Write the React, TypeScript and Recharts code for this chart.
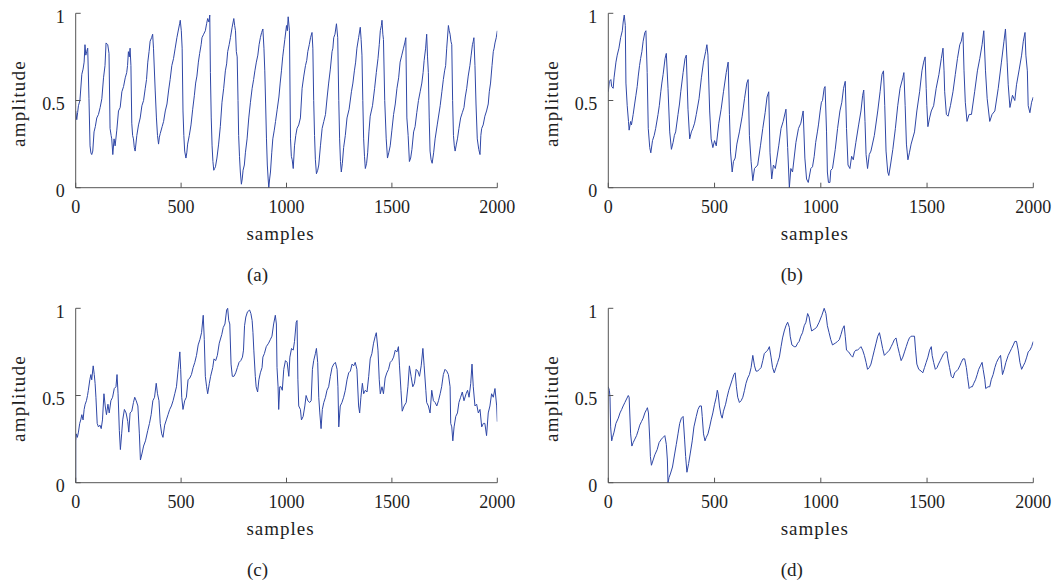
import { LineChart, Line, XAxis, YAxis } from 'recharts';

// sample index ticks and amplitude ticks shared by all four panels
const sampleTicks = [0, 500, 1000, 1500, 2000];
const amplitudeTicks = [0, 0.5, 1];

// [sample, amplitude]
const seriesA: [number, number][] = [
  [0,0.44],[5,0.39],[9,0.43],[13,0.47],[20,0.5],[29,0.65],[35,0.68],[40,0.72],[44,0.82],[48,0.76],[52,0.78],[57,0.8],[63,0.51],[68,0.24],[72,0.2],[76,0.19],[81,0.21],[87,0.32],[93,0.35],[100,0.4],[108,0.42],[116,0.46],[124,0.51],[132,0.63],[139,0.7],[144,0.83],[152,0.82],[158,0.77],[163,0.34],[168,0.3],[171,0.28],[176,0.19],[182,0.28],[187,0.24],[195,0.33],[203,0.44],[211,0.46],[219,0.55],[227,0.58],[235,0.63],[242,0.66],[246,0.7],[250,0.78],[254,0.75],[258,0.8],[262,0.7],[266,0.37],[270,0.3],[274,0.28],[278,0.23],[282,0.21],[290,0.3],[298,0.36],[306,0.4],[314,0.47],[322,0.5],[330,0.57],[336,0.62],[342,0.72],[348,0.78],[353,0.84],[360,0.86],[365,0.88],[369,0.8],[377,0.56],[383,0.4],[388,0.3],[393,0.25],[397,0.29],[401,0.31],[410,0.35],[417,0.38],[425,0.44],[433,0.48],[441,0.56],[448,0.62],[456,0.7],[464,0.74],[472,0.8],[480,0.86],[488,0.91],[493,0.94],[496,0.96],[501,0.9],[505,0.8],[509,0.44],[513,0.3],[517,0.21],[523,0.17],[527,0.2],[531,0.25],[539,0.3],[547,0.36],[555,0.45],[563,0.53],[569,0.6],[575,0.64],[582,0.72],[588,0.77],[595,0.82],[599,0.86],[607,0.88],[615,0.9],[621,0.94],[626,0.97],[632,0.95],[636,0.99],[639,0.66],[643,0.4],[647,0.24],[651,0.15],[655,0.1],[659,0.11],[663,0.12],[670,0.17],[678,0.25],[686,0.35],[694,0.49],[702,0.57],[710,0.67],[716,0.71],[721,0.78],[728,0.82],[734,0.86],[742,0.92],[750,0.97],[754,0.93],[758,0.9],[762,0.78],[766,0.75],[770,0.5],[773,0.3],[777,0.18],[781,0.09],[786,0.02],[790,0.05],[794,0.1],[800,0.13],[805,0.2],[813,0.28],[821,0.4],[829,0.49],[837,0.57],[844,0.62],[850,0.67],[857,0.72],[864,0.76],[870,0.82],[876,0.86],[882,0.89],[888,0.91],[893,0.8],[897,0.67],[901,0.48],[905,0.28],[909,0.13],[913,0.05],[916,0.0],[920,0.05],[924,0.09],[930,0.2],[935,0.28],[942,0.33],[948,0.38],[956,0.45],[964,0.52],[970,0.6],[976,0.67],[982,0.75],[987,0.8],[992,0.85],[1000,0.93],[1004,0.9],[1008,0.98],[1014,0.9],[1019,0.28],[1023,0.18],[1027,0.16],[1032,0.11],[1038,0.24],[1044,0.3],[1050,0.34],[1058,0.36],[1066,0.4],[1074,0.57],[1082,0.64],[1090,0.7],[1096,0.73],[1101,0.78],[1108,0.82],[1114,0.86],[1121,0.89],[1125,0.8],[1129,0.5],[1133,0.3],[1137,0.16],[1142,0.08],[1148,0.1],[1153,0.13],[1161,0.24],[1169,0.34],[1177,0.38],[1185,0.42],[1193,0.52],[1200,0.6],[1208,0.68],[1216,0.78],[1220,0.8],[1224,0.86],[1230,0.88],[1237,0.94],[1243,0.86],[1248,0.5],[1252,0.28],[1256,0.15],[1260,0.09],[1265,0.14],[1271,0.23],[1279,0.3],[1287,0.4],[1297,0.45],[1308,0.55],[1315,0.6],[1322,0.67],[1328,0.72],[1334,0.8],[1342,0.86],[1350,0.92],[1354,0.85],[1358,0.76],[1362,0.5],[1366,0.28],[1370,0.18],[1374,0.11],[1380,0.14],[1385,0.2],[1391,0.32],[1397,0.41],[1408,0.47],[1418,0.57],[1426,0.66],[1434,0.74],[1440,0.82],[1445,0.9],[1450,0.93],[1453,0.96],[1457,0.88],[1460,0.85],[1466,0.5],[1473,0.28],[1479,0.17],[1485,0.2],[1492,0.24],[1500,0.33],[1508,0.42],[1516,0.48],[1524,0.57],[1532,0.63],[1539,0.72],[1547,0.76],[1555,0.8],[1561,0.83],[1566,0.86],[1571,0.4],[1577,0.3],[1583,0.15],[1589,0.17],[1595,0.22],[1603,0.32],[1610,0.35],[1618,0.43],[1626,0.5],[1634,0.55],[1642,0.6],[1648,0.66],[1653,0.73],[1660,0.8],[1665,0.88],[1669,0.75],[1673,0.66],[1677,0.4],[1681,0.21],[1686,0.16],[1691,0.14],[1698,0.2],[1705,0.28],[1715,0.36],[1729,0.47],[1737,0.55],[1744,0.62],[1750,0.67],[1755,0.7],[1760,0.8],[1768,0.93],[1772,0.9],[1776,0.88],[1780,0.84],[1784,0.82],[1788,0.5],[1792,0.3],[1796,0.24],[1800,0.21],[1806,0.25],[1811,0.28],[1818,0.34],[1826,0.4],[1834,0.43],[1842,0.46],[1848,0.52],[1855,0.57],[1862,0.64],[1870,0.7],[1876,0.76],[1882,0.82],[1886,0.84],[1889,0.86],[1894,0.7],[1899,0.48],[1905,0.28],[1912,0.22],[1918,0.19],[1922,0.3],[1926,0.34],[1933,0.36],[1941,0.41],[1949,0.44],[1957,0.48],[1962,0.55],[1968,0.6],[1975,0.7],[1981,0.78],[1985,0.8],[1989,0.83],[1995,0.86],[2000,0.9],
];

const seriesB: [number, number][] = [
  [0,0.55],[5,0.61],[12,0.62],[16,0.58],[23,0.57],[27,0.63],[36,0.72],[42,0.76],[50,0.8],[58,0.86],[66,0.9],[70,0.95],[75,0.99],[80,0.93],[83,0.6],[89,0.47],[95,0.38],[98,0.33],[105,0.38],[109,0.36],[117,0.42],[124,0.48],[130,0.53],[136,0.58],[141,0.64],[147,0.7],[152,0.74],[158,0.78],[164,0.84],[172,0.89],[177,0.9],[183,0.66],[188,0.34],[195,0.23],[200,0.2],[208,0.27],[216,0.3],[223,0.34],[234,0.42],[240,0.47],[247,0.55],[252,0.6],[258,0.65],[267,0.74],[273,0.77],[281,0.57],[289,0.32],[297,0.22],[305,0.26],[311,0.3],[317,0.32],[328,0.42],[335,0.48],[341,0.55],[352,0.66],[361,0.74],[367,0.76],[375,0.45],[383,0.28],[391,0.32],[398,0.34],[406,0.37],[414,0.42],[427,0.51],[438,0.63],[448,0.72],[458,0.78],[464,0.82],[469,0.76],[477,0.44],[484,0.28],[492,0.23],[500,0.27],[508,0.24],[520,0.37],[531,0.45],[542,0.55],[555,0.66],[564,0.72],[570,0.42],[575,0.21],[583,0.09],[589,0.15],[597,0.17],[605,0.25],[617,0.32],[630,0.41],[641,0.51],[652,0.6],[658,0.62],[664,0.3],[672,0.15],[680,0.04],[688,0.11],[703,0.13],[716,0.24],[727,0.34],[738,0.43],[747,0.52],[755,0.55],[761,0.2],[769,0.05],[777,0.13],[786,0.11],[802,0.24],[813,0.34],[823,0.38],[836,0.45],[844,0.23],[852,0.0],[859,0.11],[867,0.09],[883,0.26],[895,0.34],[906,0.37],[917,0.44],[925,0.17],[933,0.05],[941,0.03],[953,0.11],[961,0.12],[969,0.18],[976,0.26],[984,0.32],[989,0.36],[997,0.44],[1003,0.49],[1008,0.5],[1016,0.57],[1020,0.58],[1027,0.32],[1031,0.09],[1036,0.03],[1043,0.03],[1047,0.1],[1055,0.11],[1068,0.22],[1079,0.34],[1090,0.44],[1099,0.49],[1107,0.57],[1115,0.61],[1121,0.34],[1128,0.13],[1137,0.11],[1145,0.18],[1153,0.16],[1165,0.26],[1178,0.36],[1189,0.44],[1197,0.53],[1202,0.56],[1208,0.38],[1213,0.19],[1220,0.11],[1228,0.19],[1236,0.21],[1252,0.3],[1268,0.44],[1279,0.55],[1288,0.65],[1295,0.67],[1301,0.47],[1307,0.21],[1315,0.09],[1320,0.07],[1328,0.13],[1339,0.22],[1351,0.34],[1362,0.47],[1373,0.57],[1386,0.63],[1391,0.66],[1397,0.47],[1403,0.25],[1410,0.16],[1417,0.2],[1425,0.25],[1441,0.32],[1452,0.44],[1465,0.55],[1476,0.67],[1484,0.72],[1491,0.75],[1496,0.57],[1499,0.47],[1504,0.35],[1512,0.4],[1520,0.44],[1531,0.47],[1543,0.57],[1556,0.65],[1567,0.74],[1575,0.8],[1580,0.67],[1583,0.55],[1591,0.42],[1599,0.41],[1610,0.47],[1622,0.55],[1633,0.65],[1643,0.74],[1654,0.82],[1661,0.84],[1669,0.89],[1674,0.67],[1680,0.49],[1688,0.38],[1698,0.42],[1709,0.42],[1724,0.55],[1737,0.67],[1748,0.74],[1759,0.82],[1767,0.9],[1775,0.67],[1783,0.51],[1795,0.38],[1806,0.42],[1819,0.44],[1835,0.57],[1850,0.72],[1862,0.84],[1869,0.91],[1877,0.72],[1882,0.59],[1890,0.46],[1902,0.53],[1913,0.5],[1921,0.59],[1934,0.68],[1945,0.76],[1953,0.84],[1961,0.89],[1965,0.76],[1972,0.67],[1976,0.47],[1984,0.43],[1992,0.49],[2000,0.52],
];

const seriesC: [number, number][] = [
  [0,0],[0,0.24],[3,0.28],[8,0.26],[13,0.29],[19,0.34],[24,0.36],[29,0.39],[35,0.36],[40,0.42],[45,0.45],[51,0.47],[56,0.5],[60,0.53],[67,0.59],[72,0.62],[76,0.59],[83,0.67],[88,0.62],[92,0.57],[96,0.49],[102,0.34],[108,0.32],[115,0.33],[121,0.31],[127,0.36],[134,0.51],[140,0.44],[146,0.39],[153,0.45],[159,0.4],[167,0.47],[175,0.49],[183,0.54],[191,0.55],[196,0.62],[201,0.51],[207,0.3],[212,0.19],[218,0.28],[223,0.36],[231,0.42],[239,0.4],[247,0.35],[252,0.29],[258,0.4],[266,0.41],[274,0.46],[280,0.49],[287,0.47],[295,0.44],[302,0.28],[307,0.13],[315,0.17],[322,0.21],[331,0.24],[342,0.3],[350,0.34],[358,0.39],[366,0.47],[374,0.49],[382,0.57],[388,0.51],[395,0.47],[401,0.34],[408,0.28],[414,0.26],[422,0.33],[430,0.36],[438,0.39],[446,0.42],[454,0.44],[462,0.47],[470,0.51],[478,0.55],[486,0.65],[494,0.75],[498,0.65],[503,0.49],[509,0.42],[517,0.47],[525,0.49],[533,0.59],[541,0.6],[549,0.62],[557,0.66],[565,0.69],[573,0.73],[581,0.79],[589,0.82],[597,0.86],[605,0.96],[610,0.82],[615,0.61],[621,0.55],[626,0.51],[634,0.57],[640,0.61],[650,0.66],[656,0.71],[664,0.7],[672,0.73],[681,0.8],[693,0.85],[700,0.89],[708,0.91],[716,0.99],[721,1.0],[726,0.93],[731,0.91],[737,0.68],[743,0.61],[751,0.61],[759,0.63],[767,0.66],[775,0.69],[783,0.7],[791,0.72],[796,0.76],[801,0.9],[807,0.95],[815,0.98],[825,0.99],[831,0.97],[837,0.93],[841,0.86],[845,0.76],[852,0.61],[856,0.55],[863,0.52],[869,0.59],[876,0.63],[884,0.66],[888,0.72],[895,0.74],[904,0.78],[915,0.8],[923,0.82],[931,0.84],[939,0.91],[947,0.96],[952,0.91],[955,0.66],[960,0.55],[963,0.42],[968,0.55],[974,0.55],[980,0.53],[987,0.65],[995,0.7],[1003,0.69],[1011,0.61],[1016,0.72],[1024,0.77],[1032,0.76],[1038,0.81],[1046,0.92],[1050,0.93],[1054,0.59],[1058,0.44],[1066,0.42],[1071,0.36],[1079,0.38],[1087,0.44],[1093,0.5],[1101,0.47],[1110,0.46],[1117,0.47],[1123,0.65],[1129,0.7],[1137,0.74],[1142,0.77],[1148,0.69],[1153,0.49],[1158,0.4],[1164,0.31],[1170,0.42],[1177,0.46],[1185,0.49],[1192,0.53],[1200,0.55],[1208,0.61],[1216,0.66],[1224,0.68],[1232,0.69],[1240,0.65],[1244,0.55],[1248,0.32],[1255,0.44],[1263,0.46],[1271,0.49],[1279,0.53],[1287,0.59],[1295,0.63],[1303,0.64],[1311,0.68],[1319,0.67],[1326,0.69],[1334,0.65],[1342,0.44],[1347,0.4],[1353,0.49],[1360,0.57],[1366,0.51],[1374,0.53],[1382,0.52],[1390,0.61],[1397,0.71],[1405,0.74],[1413,0.8],[1421,0.84],[1426,0.86],[1434,0.76],[1440,0.59],[1445,0.51],[1453,0.55],[1460,0.51],[1468,0.6],[1476,0.63],[1484,0.65],[1492,0.69],[1500,0.7],[1508,0.72],[1516,0.76],[1524,0.75],[1531,0.78],[1536,0.67],[1543,0.53],[1549,0.41],[1558,0.44],[1568,0.46],[1576,0.55],[1583,0.67],[1591,0.61],[1599,0.55],[1607,0.57],[1615,0.65],[1623,0.64],[1631,0.61],[1639,0.67],[1647,0.77],[1653,0.67],[1661,0.53],[1665,0.46],[1673,0.44],[1681,0.4],[1689,0.53],[1697,0.47],[1705,0.46],[1713,0.44],[1721,0.47],[1729,0.51],[1736,0.55],[1744,0.62],[1752,0.65],[1760,0.64],[1768,0.62],[1776,0.55],[1779,0.34],[1784,0.32],[1789,0.24],[1795,0.32],[1803,0.38],[1811,0.4],[1818,0.46],[1826,0.49],[1834,0.52],[1842,0.47],[1852,0.51],[1859,0.53],[1866,0.49],[1874,0.57],[1880,0.68],[1886,0.55],[1894,0.44],[1902,0.45],[1910,0.4],[1918,0.42],[1926,0.32],[1934,0.34],[1941,0.34],[1949,0.27],[1957,0.4],[1965,0.44],[1973,0.51],[1981,0.49],[1989,0.54],[1997,0.44],[2000,0.35],
];

const seriesD: [number, number][] = [
  [0,0.55],[5,0.53],[8,0.49],[11,0.32],[16,0.24],[20,0.26],[27,0.29],[36,0.34],[47,0.37],[55,0.4],[63,0.42],[70,0.44],[78,0.46],[86,0.48],[94,0.5],[98,0.49],[105,0.28],[111,0.21],[117,0.23],[125,0.25],[133,0.27],[141,0.3],[148,0.33],[156,0.35],[164,0.37],[172,0.4],[180,0.42],[184,0.43],[189,0.4],[195,0.25],[198,0.15],[203,0.1],[211,0.13],[219,0.16],[230,0.19],[239,0.23],[250,0.25],[258,0.26],[266,0.27],[273,0.22],[278,0.13],[281,0.0],[286,0.03],[292,0.05],[302,0.09],[313,0.17],[320,0.22],[328,0.28],[336,0.34],[344,0.37],[352,0.38],[359,0.25],[364,0.15],[370,0.06],[378,0.11],[386,0.17],[395,0.24],[403,0.32],[414,0.38],[422,0.42],[430,0.44],[438,0.44],[442,0.38],[448,0.28],[455,0.24],[461,0.26],[469,0.28],[477,0.32],[484,0.36],[492,0.4],[500,0.45],[508,0.49],[513,0.53],[517,0.51],[523,0.44],[530,0.39],[536,0.37],[542,0.41],[552,0.45],[559,0.49],[567,0.53],[575,0.56],[583,0.59],[591,0.62],[597,0.63],[603,0.55],[609,0.49],[617,0.46],[625,0.47],[633,0.49],[641,0.53],[648,0.57],[656,0.6],[664,0.62],[672,0.66],[680,0.73],[688,0.67],[695,0.64],[703,0.64],[711,0.65],[719,0.66],[727,0.7],[734,0.74],[742,0.75],[750,0.76],[758,0.78],[766,0.72],[773,0.66],[781,0.63],[789,0.66],[797,0.69],[805,0.72],[813,0.78],[820,0.83],[828,0.87],[836,0.9],[844,0.92],[852,0.89],[856,0.84],[864,0.79],[875,0.78],[883,0.78],[891,0.8],[898,0.81],[906,0.84],[914,0.86],[922,0.9],[930,0.92],[938,0.97],[945,0.95],[950,0.91],[957,0.87],[969,0.88],[980,0.89],[992,0.92],[1005,0.96],[1016,1.0],[1024,0.97],[1031,0.9],[1039,0.86],[1047,0.82],[1055,0.79],[1068,0.8],[1079,0.81],[1087,0.82],[1095,0.85],[1102,0.88],[1110,0.9],[1115,0.84],[1121,0.76],[1131,0.75],[1142,0.73],[1150,0.72],[1158,0.75],[1165,0.76],[1173,0.76],[1181,0.77],[1189,0.78],[1197,0.76],[1205,0.73],[1213,0.69],[1220,0.65],[1228,0.66],[1236,0.68],[1244,0.72],[1252,0.76],[1260,0.8],[1268,0.84],[1276,0.86],[1283,0.82],[1291,0.77],[1299,0.73],[1307,0.74],[1315,0.75],[1323,0.76],[1331,0.78],[1339,0.8],[1346,0.82],[1354,0.83],[1362,0.78],[1370,0.74],[1378,0.7],[1386,0.72],[1394,0.75],[1402,0.78],[1410,0.81],[1417,0.83],[1425,0.84],[1433,0.84],[1441,0.84],[1446,0.76],[1452,0.68],[1461,0.65],[1472,0.64],[1480,0.63],[1488,0.66],[1496,0.69],[1504,0.72],[1512,0.76],[1520,0.78],[1524,0.73],[1531,0.69],[1539,0.65],[1547,0.66],[1554,0.68],[1562,0.7],[1570,0.72],[1578,0.74],[1587,0.75],[1594,0.75],[1598,0.71],[1606,0.66],[1614,0.61],[1622,0.6],[1630,0.63],[1638,0.64],[1646,0.65],[1654,0.67],[1661,0.69],[1669,0.71],[1677,0.71],[1685,0.66],[1690,0.61],[1698,0.54],[1706,0.55],[1713,0.55],[1720,0.57],[1728,0.59],[1736,0.62],[1743,0.65],[1751,0.67],[1759,0.69],[1764,0.65],[1772,0.59],[1776,0.54],[1787,0.55],[1795,0.55],[1802,0.59],[1811,0.62],[1819,0.66],[1827,0.69],[1835,0.71],[1846,0.73],[1850,0.68],[1855,0.62],[1863,0.65],[1871,0.69],[1882,0.73],[1890,0.75],[1898,0.77],[1906,0.79],[1913,0.81],[1921,0.81],[1929,0.76],[1937,0.69],[1945,0.65],[1953,0.67],[1961,0.69],[1969,0.72],[1976,0.75],[1984,0.76],[1992,0.78],[2000,0.81],
];

const captions = ['(a)', '(b)', '(c)', '(d)'];

const FONT = '"Liberation Serif", serif';
const LINE = '#2f47a6';
const AXIS = '#555';
const INK = '#1e1e1e';

const CHART_W = 529;
const CHART_H = 292;
const Y_AXIS_W = 40;
const X_AXIS_H = 30;

interface PanelProps {
  series: [number, number][];
  left: number;
  top: number;
  plotLeft: number;
  plotRight: number;
  plotTop: number;
  plotBottom: number;
  caption: string;
}

function Panel({ series, left, top, plotLeft, plotRight, plotTop, plotBottom, caption }: PanelProps) {
  const data = series.map(([s, v]) => ({ s, v }));
  const margin = {
    top: plotTop - top,
    right: left + CHART_W - plotRight,
    bottom: top + CHART_H - plotBottom - X_AXIS_H,
    left: plotLeft - left - Y_AXIS_W,
  };
  const labelX = plotLeft - 57;
  const midY = (plotTop + plotBottom) / 2 + 3;
  const samplesX = (plotLeft + plotRight) / 2 - 6;

  return (
    <>
      <div style={{ position: 'absolute', left, top }}>
        <LineChart width={CHART_W} height={CHART_H} data={data} margin={margin}>
          <XAxis
            dataKey="s"
            type="number"
            domain={[0, 2000]}
            ticks={sampleTicks}
            height={X_AXIS_H}
            stroke={AXIS}
            tickSize={-5}
            tickMargin={18}
            tick={{ fill: INK, fontSize: 18, fontFamily: FONT }}
            interval={0}
            allowDataOverflow
          />
          <YAxis
            type="number"
            domain={[0, 1]}
            ticks={amplitudeTicks}
            width={Y_AXIS_W}
            stroke={AXIS}
            tickSize={-5}
            tickMargin={16}
            tick={{ fill: INK, fontSize: 18, fontFamily: FONT, dy: 3 }}
            interval={0}
          />
          <Line
            type="linear"
            dataKey="v"
            stroke={LINE}
            strokeWidth={1}
            dot={false}
            isAnimationActive={false}
          />
        </LineChart>
      </div>
      <svg
        width={1058}
        height={584}
        style={{ position: 'absolute', left: 0, top: 0, pointerEvents: 'none', overflow: 'visible' }}
      >
        <text
          x={labelX}
          y={midY}
          transform={`rotate(-90 ${labelX} ${midY})`}
          textAnchor="middle"
          dominantBaseline="central"
          fontFamily={FONT}
          fontSize={19}
          letterSpacing={1.2}
          fill={INK}
        >
          amplitude
        </text>
        <text x={samplesX} y={plotBottom + 52.5} textAnchor="middle" fontFamily={FONT} fontSize={19} letterSpacing={1} fill={INK}>
          samples
        </text>
        <text x={samplesX - 23} y={plotBottom + 93} textAnchor="middle" fontFamily={FONT} fontSize={19} fill={INK}>
          {caption}
        </text>
      </svg>
    </>
  );
}

export default function App() {
  return (
    <div style={{ position: 'absolute', left: 0, top: 0, width: 1058, height: 584, background: '#fff', fontFamily: FONT }}>
      <Panel series={seriesA} left={0} top={0} plotLeft={75.7} plotRight={497.3} plotTop={13.3} plotBottom={187.7} caption={captions[0]} />
      <Panel series={seriesB} left={529} top={0} plotLeft={608.3} plotRight={1033.3} plotTop={13.3} plotBottom={187.7} caption={captions[1]} />
      <Panel series={seriesC} left={0} top={292} plotLeft={75.7} plotRight={497.3} plotTop={308.3} plotBottom={482.7} caption={captions[2]} />
      <Panel series={seriesD} left={529} top={292} plotLeft={608.3} plotRight={1033.3} plotTop={308.3} plotBottom={482.7} caption={captions[3]} />
    </div>
  );
}
